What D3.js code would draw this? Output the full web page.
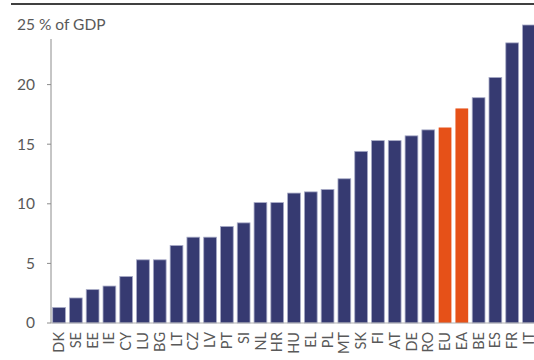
<!DOCTYPE html>
<html><head><meta charset="utf-8">
<script src="https://cdn.jsdelivr.net/npm/d3@7"></script>
<style>body{margin:0;background:#fff}svg{display:block}text{font-family:Lato,"Open Sans",sans-serif}</style>
</head><body><svg id="c" width="534" height="360"></svg>
<script>
const categories = ["DK","SE","EE","IE","CY","LU","BG","LT","CZ","LV","PT","SI","NL","HR","HU","EL","PL","MT","SK","FI","AT","DE","RO","EU","EA","BE","ES","FR","IT"];
const values = [1.3,2.1,2.8,3.1,3.9,5.3,5.3,6.5,7.2,7.2,8.1,8.4,10.1,10.1,10.9,11.0,11.2,12.1,14.4,15.3,15.3,15.7,16.2,16.4,18.0,18.9,20.6,23.5,25.0];
const highlight = ["EU","EA"];
const yTicks = [0,5,10,15,20];
const unitLabel = "25 % of GDP";

const svg = d3.select("#c");
const x = d3.scaleBand().domain(categories).range([51, 537]).paddingInner(0.24).paddingOuter(0.1);
const y = d3.scaleLinear().domain([0, 25]).range([323, 25]);

svg.append("line").attr("x1", 11).attr("x2", 534).attr("y1", 4).attr("y2", 4).attr("stroke", "#000").attr("stroke-width", 1.5);

svg.append("g").selectAll("rect").data(categories).join("rect")
  .attr("x", d => x(d)).attr("width", x.bandwidth())
  .attr("y", (d, i) => y(values[i])).attr("height", (d, i) => y(0) - y(values[i]))
  .attr("fill", d => highlight.includes(d) ? "#e65118" : "#363a71")
  .attr("stroke", d => highlight.includes(d) ? "none" : "#a7aac6").attr("stroke-width", 0.8);

// y axis
const ya = svg.append("g");
ya.append("line").attr("x1", 51).attr("x2", 51).attr("y1", 39).attr("y2", y(0)).attr("stroke", "#8c8c8c");
ya.selectAll("line.t").data(yTicks).join("line").attr("class", "t")
  .attr("x1", 47).attr("x2", 51).attr("y1", d => y(d)).attr("y2", d => y(d)).attr("stroke", "#8c8c8c");
ya.selectAll("text").data(yTicks).join("text")
  .attr("x", 35).attr("y", d => y(d)).attr("dy", "0.35em").attr("text-anchor", "end")
  .attr("font-size", 15.5).attr("fill", "#595959").text(d => d);
svg.append("text").attr("x", 17).attr("y", y(25)).attr("dy", "0.35em").attr("font-size", 15.5).attr("fill", "#595959").text(unitLabel);

// x axis
svg.append("line").attr("x1", 51).attr("x2", 534).attr("y1", y(0)).attr("y2", y(0)).attr("stroke", "#b0b0b0");
svg.append("g").selectAll("text").data(categories).join("text")
  .attr("transform", d => `translate(${x(d) + x.bandwidth() / 2},332) rotate(-90)`)
  .attr("text-anchor", "end").attr("dy", "0.35em").attr("font-size", 14.5).attr("fill", "#595959").text(d => d);
</script></body></html>
